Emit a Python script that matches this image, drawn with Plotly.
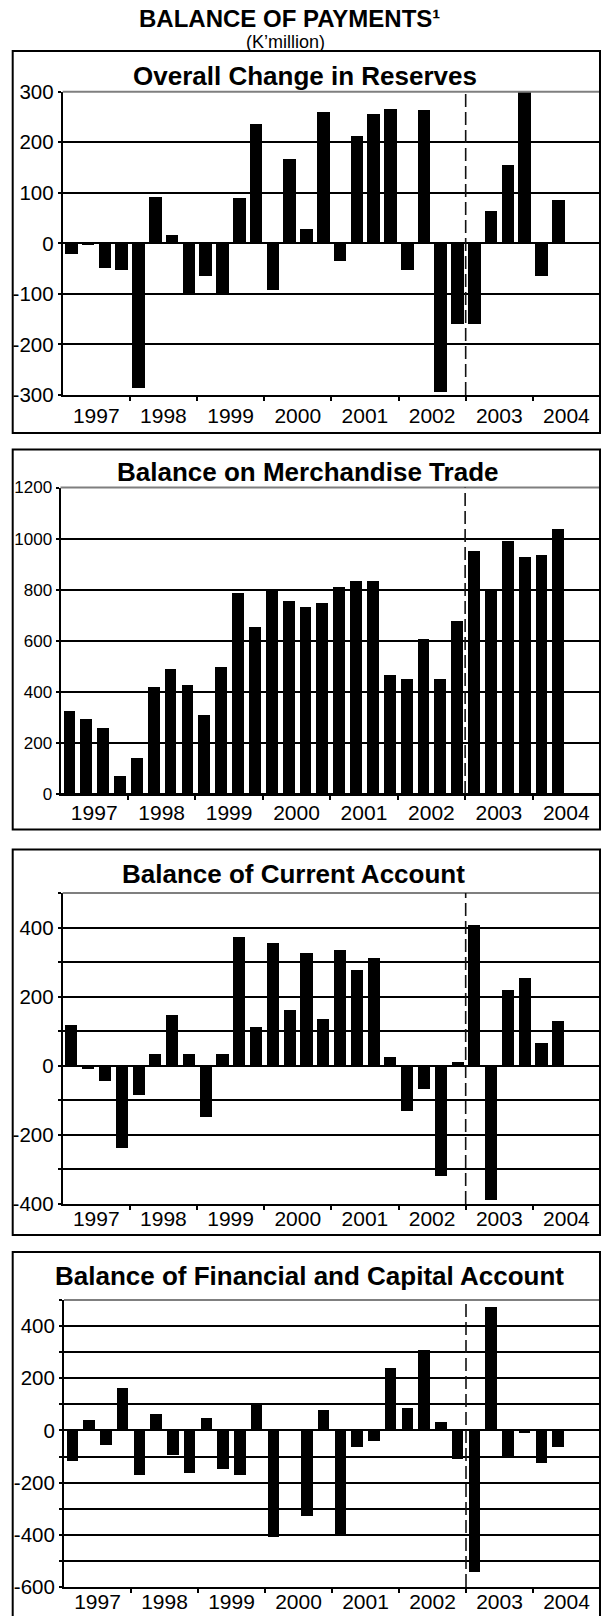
import plotly.graph_objects as go

# Quarterly periods, 1997Q1 .. 2004Q2
years = [1997, 1998, 1999, 2000, 2001, 2002, 2003, 2004]
quarters = [f"{y}Q{q}" for y in years for q in range(1, 5)][:30]

# K'million
reserves = [-20, -2, -49, -53, -286, 93, 18, -100, -64, -100, 90, 237, -92, 167, 29,
            260, -34, 213, 256, 267, -53, 264, -294, -159, -159, 64, 156, 300, -64, 87]
merchandise = [326, 294, 262, 72, 144, 420, 492, 428, 310, 500, 788, 655, 796, 757, 734,
               750, 812, 835, 835, 468, 452, 610, 452, 680, 952, 800, 992, 930, 938, 1040]
current = [119, -9, -44, -237, -85, 35, 148, 35, -149, 35, 372, 113, 354, 160, 325,
           136, 336, 277, 312, 24, -131, -67, -318, 12, 407, -388, 220, 255, 66, 130]
financial = [-117, 41, -55, 164, -171, 64, -94, -163, 49, -148, -171, 103, -410, 5, -326,
             80, -398, -64, -41, 241, 87, 310, 33, -109, -542, 472, -102, -9, -125, -63]

titles = ["Overall Change in Reserves", "Balance on Merchandise Trade",
          "Balance of Current Account", "Balance of Financial and Capital Account"]
series = [reserves, merchandise, current, financial]
break_period = 2003.0  # dashed separator between 2002Q4 and 2003Q1

W, H = 601, 1616
FONT = "Arial, Liberation Sans, sans-serif"

# quarter label -> position on a continuous year axis (centre of the quarter)
def qpos(label):
    y, q = label.split("Q")
    return int(y) + (int(q) - 0.5) / 4

xpos = [qpos(q) for q in quarters]

def xdom(a, b):
    return [a / W, b / W]

def ydom(top, bottom):
    return [1 - bottom / H, 1 - top / H]

# per-panel geometry (pixels) and axis settings
panels = [
    dict(box=(51, 433), plot=(62.7, 91.7, 395), rng=(-300, 300), step=100,
         labelled=[300, 200, 100, 0, -100, -200, -300], title_y=76, title_x=305,
         tickfont=dict(family=FONT, size=20.5, color="black"), bw=0.75, standoff=1),
    dict(box=(449.5, 829.5), plot=(60.5, 487.5, 794), rng=(0, 1200), step=200,
         labelled=[0, 200, 400, 600, 800, 1000, 1200], title_y=472, title_x=307,
         tickfont=dict(family=FONT, size=17, color="black"), bw=0.7, standoff=-1),
    dict(box=(849.5, 1235), plot=(62.7, 893, 1204), rng=(-400, 500), step=100,
         labelled=[400, 200, 0, -200, -400], title_y=874, title_x=293,
         tickfont=dict(family=FONT, size=20.5, color="black"), bw=0.72, standoff=-5),
    dict(box=(1252, 1640), plot=(64, 1300, 1587), rng=(-600, 500), step=100,
         labelled=[400, 200, 0, -200, -400, -600], title_y=1276, title_x=309,
         tickfont=dict(family=FONT, size=20.5, color="black"), bw=0.7, standoff=-5),
]

fig = go.Figure()
shapes = []
annotations = []

for i, (p, vals, title) in enumerate(zip(panels, series, titles), start=1):
    xa = "x" if i == 1 else f"x{i}"
    ya = "y" if i == 1 else f"y{i}"
    left, top, bottom = p["plot"]

    fig.add_trace(go.Bar(
        x=xpos, y=vals, width=p["bw"] / 4, xaxis=xa, yaxis=ya,
        marker=dict(color="black", line=dict(width=0)),
        hovertext=quarters, showlegend=False,
    ))

    lo, hi = p["rng"]
    tv = list(range(lo, hi + 1, p["step"]))
    tt = [str(v) if v in p["labelled"] else "" for v in tv]

    fig.layout[f"xaxis{'' if i == 1 else i}"] = dict(
        domain=xdom(left, 600), anchor=ya, range=[1997, 2005], automargin=False,
        tickmode="array", tickvals=[y + 0.5 for y in years],
        ticktext=[str(y) for y in years], ticks="",
        ticklabelstandoff=p["standoff"],
        minor=dict(tickmode="array", tickvals=[y + 1 for y in years],
                   ticks="outside", ticklen=4, tickwidth=1.5, tickcolor="black",
                   showgrid=False),
        showline=True, linecolor="black", linewidth=2, showgrid=False,
        zeroline=False, tickfont=dict(family=FONT, size=21, color="black"),
        fixedrange=True,
    )
    fig.layout[f"yaxis{'' if i == 1 else i}"] = dict(
        domain=ydom(top, bottom), anchor=xa, range=[lo, hi], automargin=False,
        tickmode="array", tickvals=tv, ticktext=tt,
        ticks="outside", ticklen=3, tickwidth=1.5, tickcolor="black",
        showgrid=True, gridcolor="black", gridwidth=1.5,
        zeroline=True, zerolinecolor="black", zerolinewidth=1.5,
        showline=True, linecolor="black", linewidth=2,
        tickfont=p["tickfont"], fixedrange=True,
    )

    # gray upper edge of the plotting area
    shapes.append(dict(type="line", xref=f"{xa} domain", yref=f"{ya} domain",
                       x0=0, x1=1, y0=1, y1=1,
                       line=dict(color="#7f7f7f", width=2)))
    # dashed separator
    shapes.append(dict(type="line", xref=xa, yref=f"{ya} domain",
                       x0=break_period, x1=break_period, y0=0, y1=1,
                       line=dict(color="#111111", width=1.6, dash="13px,5px")))
    # panel frame
    bt, bb = p["box"]
    shapes.append(dict(type="rect", xref="paper", yref="paper",
                       x0=12.7 / W, x1=600 / W, y0=1 - bb / H, y1=1 - bt / H,
                       line=dict(color="black", width=2), fillcolor="rgba(0,0,0,0)"))
    annotations.append(dict(text=f"<b>{title}</b>", xref="paper", yref="paper",
                            x=p["title_x"] / W, y=1 - p["title_y"] / H,
                            xanchor="center", yanchor="middle", showarrow=False,
                            font=dict(family=FONT, size=26, color="black")))

annotations.append(dict(text="<b>BALANCE OF PAYMENTS¹</b>", xref="paper", yref="paper",
                        x=289 / W, y=1 - 19 / H, xanchor="center", yanchor="middle",
                        showarrow=False, font=dict(family=FONT, size=24, color="black")))
annotations.append(dict(text="(K’million)", xref="paper", yref="paper",
                        x=285 / W, y=1 - 42.5 / H, xanchor="center", yanchor="middle",
                        showarrow=False, font=dict(family=FONT, size=18, color="black")))

fig.update_layout(
    template="none",
    width=W, height=H, margin=dict(l=0, r=0, t=0, b=0, autoexpand=False),
    paper_bgcolor="white", plot_bgcolor="white",
    bargap=0, shapes=shapes, annotations=annotations,
)

fig.write_html("out.html")
